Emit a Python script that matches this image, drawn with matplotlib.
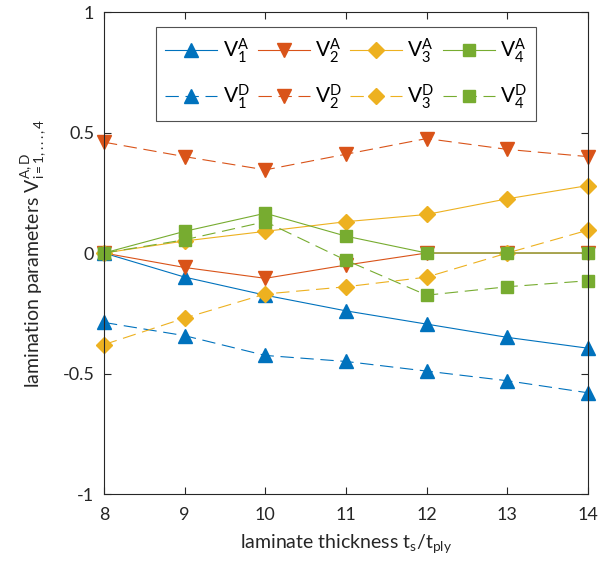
import numpy as np
import matplotlib.pyplot as plt

plt.rcParams['font.family'] = ['Lato', 'DejaVu Sans']
plt.rcParams['mathtext.fontset'] = 'custom'
plt.rcParams['mathtext.rm'] = 'Lato'
plt.rcParams['mathtext.it'] = 'Lato'
plt.rcParams['mathtext.default'] = 'regular'

thickness = [8, 9, 10, 11, 12, 13, 14]

v1a = [0, -0.10, -0.175, -0.24, -0.295, -0.35, -0.395]
v2a = [0, -0.06, -0.105, -0.05, 0, 0, 0]
v3a = [0, 0.05, 0.09, 0.13, 0.16, 0.225, 0.28]
v4a = [0, 0.09, 0.165, 0.07, 0, 0, 0]

v1d = [-0.288, -0.343, -0.425, -0.45, -0.49, -0.53, -0.58]
v2d = [0.46, 0.40, 0.345, 0.41, 0.475, 0.43, 0.40]
v3d = [-0.38, -0.27, -0.17, -0.14, -0.10, 0.0, 0.095]
v4d = [0, 0.055, 0.13, -0.03, -0.175, -0.14, -0.115]

cols = ['#0072BD', '#D95319', '#EDB120', '#77AC30']
marks = ['^', 'v', 'D', 's']
msizes = [10, 10, 8, 8]

fig = plt.figure(figsize=(6.06, 5.70), dpi=100)
ax = fig.add_axes([0.1716, 0.1333, 0.7987, 0.8456])

series_a = [v1a, v2a, v3a, v4a]
series_d = [v1d, v2d, v3d, v4d]
handles = []
for i in range(4):
    ha, = ax.plot(thickness, series_a[i], color=cols[i], marker=marks[i], ms=msizes[i],
                  lw=0.8, mec=cols[i], label='$V_%d^A$' % (i + 1), clip_on=False)
    hd, = ax.plot(thickness, series_d[i], color=cols[i], marker=marks[i], ms=msizes[i],
                  lw=0.8, ls=(0, (12, 6)), mec=cols[i], label='$V_%d^D$' % (i + 1), clip_on=False)
    handles += [ha, hd]

ax.set_xlim(8, 14)
ax.set_ylim(-1, 1)
ax.set_xticks([8, 9, 10, 11, 12, 13, 14])
ax.set_yticks([-1, -0.5, 0, 0.5, 1])
ax.set_yticklabels(['-1', '-0.5', '0', '0.5', '1'])
ax.tick_params(direction='in', top=True, right=True, length=5, width=0.8,
               labelsize=13, colors='#262626')
ax.tick_params(axis='x', pad=9)
ax.tick_params(axis='y', pad=7)
for s in ax.spines.values():
    s.set_color('#262626')
    s.set_linewidth(0.8)

ax.set_xlabel('laminate thickness $t_s/t_{ply}$', fontsize=14, color='#262626', labelpad=7)
ax.set_ylabel('lamination parameters $V^{A,D}_{i=1,...,4}$', fontsize=14, color='#262626',
              labelpad=10)

# columns filled first -> pairs A/D in each column
leg = ax.legend(handles=handles, ncol=4, loc='upper center', bbox_to_anchor=(0.5, 0.969),
                borderaxespad=0, fontsize=15, frameon=True, fancybox=False,
                edgecolor='#262626', handlelength=2.5, columnspacing=0.4,
                handletextpad=0.25, borderpad=0.45, labelspacing=0.85)
leg.get_frame().set_linewidth(0.8)

plt.savefig('out.png')
